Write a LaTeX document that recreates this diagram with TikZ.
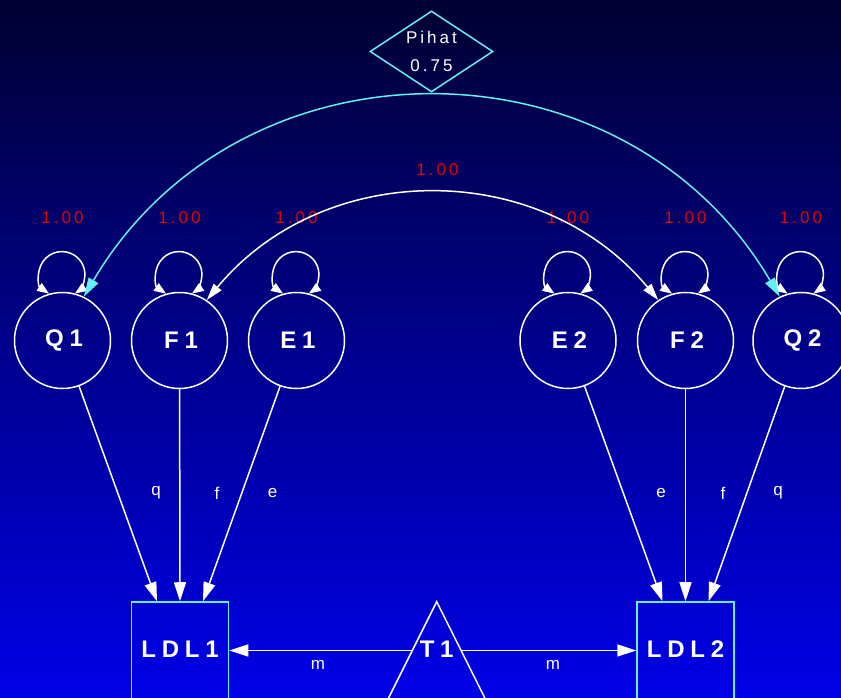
\documentclass[tikz,border=0pt]{standalone}
\usepackage{fontspec}
\setmainfont{Liberation Sans}
\newfontfamily\spfont[LetterSpace=18]{Liberation Sans}
\newfontfamily\nodefont[LetterSpace=24]{Liberation Sans}
\usetikzlibrary{arrows.meta,shapes.geometric}
\definecolor{bgtop}{RGB}{0,0,50}
\definecolor{bgbot}{RGB}{0,0,232}
\definecolor{cyanline}{RGB}{100,240,240}
\definecolor{redlbl}{RGB}{230,0,0}
\begin{document}
\begin{tikzpicture}[x=1pt,y=1pt,
  latent/.style={circle,draw=white,line width=1.5pt,minimum size=96pt,inner sep=0pt,text=white,
    font=\nodefont\bfseries\fontsize{24}{26}\selectfont},
  manifest/.style={rectangle,draw=cyanline,line width=1.5pt,minimum width=97pt,minimum height=97pt,
    inner sep=0pt,text=white,font=\nodefont\bfseries\fontsize{24}{26}\selectfont},
  meannode/.style={rectangle,draw=none,minimum width=48.8pt,minimum height=20pt,inner sep=0pt,text=white,
    font=\nodefont\bfseries\fontsize{24}{26}\selectfont},
  pibox/.style={diamond,draw=cyanline,line width=1.5pt,aspect=1.52,minimum width=123pt,minimum height=81pt,
    inner sep=0pt,text=white,align=center,font=\spfont\fontsize{17}{28}\selectfont},
  varlbl/.style={text=redlbl,font=\spfont\fontsize{17}{20}\selectfont},
  pathlbl/.style={text=white,font=\fontsize{17}{20}\selectfont},
  loadarrow/.style={draw=white,line width=1.5pt,-{Triangle[length=19pt,width=12pt]}},
  looparrow/.style={draw=white,line width=1.5pt,{Triangle[length=12pt,width=9pt]}-{Triangle[length=12pt,width=9pt]}},
  corrarrow/.style={draw=white,line width=1.5pt,{Triangle[length=17pt,width=10pt]}-{Triangle[length=17pt,width=10pt]}},
  cyanarrow/.style={draw=cyanline,line width=1.5pt,{Triangle[length=19pt,width=11pt]}-{Triangle[length=19pt,width=11pt]}}
]
\useasboundingbox (0,0) rectangle (841,698);
\clip (0,0) rectangle (841,698);
\shade[top color=bgtop,bottom color=bgbot] (0,0) rectangle (841,698);

% latent variables
\node[latent] (Q1) at (62.5,357.5) {\hspace*{3pt}Q1};
\node[latent] (F1) at (179.5,357.5) {\hspace*{3pt}F1};
\node[latent] (E1) at (296.5,357.5) {\hspace*{3pt}E1};
\node[latent] (E2) at (568,357.5) {\hspace*{3pt}E2};
\node[latent] (F2) at (685.5,357.5) {\hspace*{3pt}F2};
\node[latent] (Q2) at (801,357.5) {\hspace*{3pt}Q2};

% manifest variables and mean
\node[manifest] (LDL1) at (180,47.5) {\raisebox{3pt}{LDL1}};
\node[manifest] (LDL2) at (685.5,47.5) {\raisebox{3pt}{LDL2}};
\node[meannode] (T1) at (436.7,47.5) {\raisebox{2pt}{T1}};
\draw[white,line width=1.5pt] (436.7,96.3) -- (376.05,-25) -- (497.35,-25) -- cycle;

% Pihat
\node[pibox] (Pi) at (431.5,646.5) {Pihat\\0.75};

% variance labels
\node[varlbl] (vQ1) at (62.5,480) {1.00};
\node[varlbl] (vF1) at (179.5,480) {1.00};
\node[varlbl] (vE1) at (296.5,480) {1.00};
\node[varlbl] (vE2) at (568,480) {1.00};
\node[varlbl] (vF2) at (685.5,480) {1.00};
\node[varlbl] (vQ2) at (801,480) {1.00};
\node[varlbl] (cF) at (437.5,528) {1.00};

% self loops
\foreach \n in {Q1,F1,E1,E2,F2,Q2}
  \draw[looparrow] (\n.106) arc[start angle=236,end angle=-56,radius=23];

% correlations
\draw[cyanarrow] (Q1.64) to[out=59.5,in=120.5,distance=308pt] (Q2.116);
\draw[corrarrow] (F1.56) to[out=50.35,in=129.65,distance=184pt] (F2.124);

% loadings
\draw[loadarrow] (Q1) -- ([xshift=-23pt]LDL1.north);
\draw[loadarrow] (F1) -- (LDL1.north);
\draw[loadarrow] (E1) -- ([xshift=23pt]LDL1.north);
\draw[loadarrow] (E2) -- ([xshift=-23pt]LDL2.north);
\draw[loadarrow] (F2) -- (LDL2.north);
\draw[loadarrow] (Q2) -- ([xshift=23pt]LDL2.north);

% means
\draw[loadarrow] (T1.west) -- (LDL1.east);
\draw[loadarrow] (T1.east) -- (LDL2.west);

% path labels
\node[pathlbl] (lq1) at (156,205) {q};
\node[pathlbl] (lf1) at (217,205) {f};
\node[pathlbl] (le1) at (272.5,205) {e};
\node[pathlbl] (le2) at (661,205) {e};
\node[pathlbl] (lf2) at (723,205) {f};
\node[pathlbl] (lq2) at (778,205) {q};
\node[pathlbl] (lm1) at (318,33) {m};
\node[pathlbl] (lm2) at (553,33) {m};
\end{tikzpicture}
\end{document}
